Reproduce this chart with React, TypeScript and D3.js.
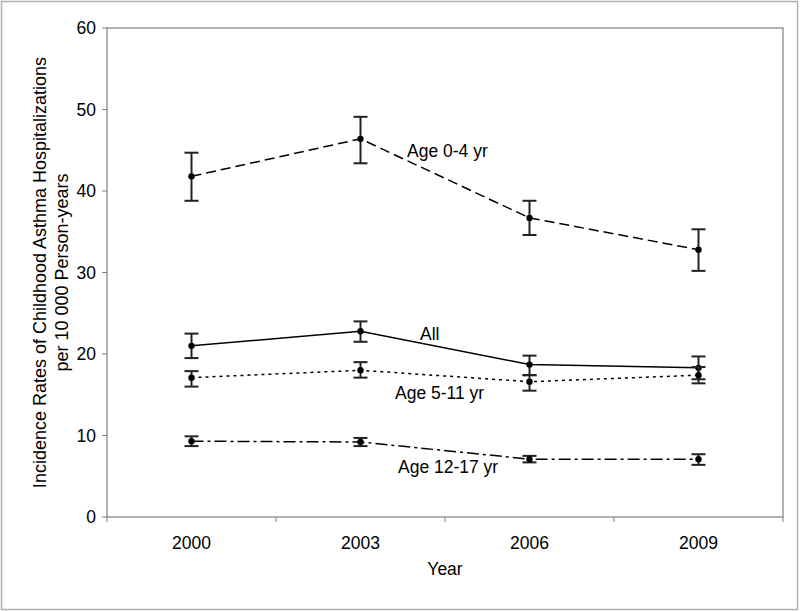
import React from "react";
import * as d3 from "d3";

const years = ["2000", "2003", "2006", "2009"];
const yTicks = [0, 10, 20, 30, 40, 50, 60];

const age04 = [41.8, 46.4, 36.7, 32.8];
const age04Lo = [38.8, 43.4, 34.6, 30.2];
const age04Hi = [44.7, 49.1, 38.8, 35.3];

const allAges = [21.0, 22.8, 18.7, 18.3];
const allLo = [19.5, 21.5, 17.4, 16.9];
const allHi = [22.5, 24.0, 19.8, 19.7];

const age511 = [17.1, 18.0, 16.6, 17.4];
const age511Lo = [16.0, 17.1, 15.5, 16.4];
const age511Hi = [17.9, 19.0, 17.4, 18.4];

const age1217 = [9.3, 9.2, 7.1, 7.1];
const age1217Lo = [8.7, 8.7, 6.7, 6.4];
const age1217Hi = [9.9, 9.7, 7.5, 7.7];

const seriesLabels = ["Age 0-4 yr", "All", "Age 5-11 yr", "Age 12-17 yr"];

const W = 800;
const H = 611;
const left = 107;
const right = 783;
const top = 28;
const bottom = 517;

export default function App() {
  const x = d3.scaleBand<string>().domain(years).range([left, right]);
  const y = d3.scaleLinear().domain([0, 60]).range([bottom, top]);
  const cx = (yr: string) => (x(yr) as number) + x.bandwidth() / 2;
  const line = d3
    .line<number>()
    .x((_, i) => cx(years[i]))
    .y((v) => y(v));

  const series = [
    { vals: age04, lo: age04Lo, hi: age04Hi, dash: "10,5", label: seriesLabels[0], lx: 407, ly: 157 },
    { vals: allAges, lo: allLo, hi: allHi, dash: "", label: seriesLabels[1], lx: 420, ly: 340 },
    { vals: age511, lo: age511Lo, hi: age511Hi, dash: "3,4", label: seriesLabels[2], lx: 395, ly: 399 },
    { vals: age1217, lo: age1217Lo, hi: age1217Hi, dash: "12,4,3,4", label: seriesLabels[3], lx: 398, ly: 473 },
  ];

  const font = "'Liberation Sans', Arial, sans-serif";
  const fs = 17.5;
  const boundaries = [left, ...years.map((yr) => (x(yr) as number) + x.bandwidth())];

  return (
    <svg
      width={W}
      height={H}
      style={{ position: "absolute", left: 0, top: 0, display: "block", background: "#fff" }}
      fontFamily={font}
    >
      <rect x={1.5} y={1.5} width={W - 4} height={H - 3} fill="#fff" stroke="#b0b0b0" strokeWidth={1.5} />
      <rect x={left} y={top} width={right - left} height={bottom - top} fill="#fff" stroke="#808080" strokeWidth={1.2} />
      {yTicks.map((t) => (
        <g key={t}>
          <line x1={left - 5} x2={left} y1={y(t)} y2={y(t)} stroke="#808080" />
          <text x={left - 11} y={y(t)} dy="0.35em" textAnchor="end" fontSize={fs} fill="#000">
            {t}
          </text>
        </g>
      ))}
      {boundaries.map((b, i) => (
        <line key={i} x1={b} x2={b} y1={bottom} y2={bottom + 5} stroke="#808080" />
      ))}
      {years.map((yr) => (
        <text key={yr} x={cx(yr)} y={549} textAnchor="middle" fontSize={fs} fill="#000">
          {yr}
        </text>
      ))}
      <text x={(left + right) / 2} y={575} textAnchor="middle" fontSize={fs} fill="#000">
        Year
      </text>
      <text transform={`translate(46, ${(top + bottom) / 2}) rotate(-90)`} textAnchor="middle" fontSize={18} fill="#000">
        Incidence Rates of Childhood Asthma Hospitalizations
      </text>
      <text transform={`translate(68, ${(top + bottom) / 2}) rotate(-90)`} textAnchor="middle" fontSize={18} fill="#000">
        per 10 000 Person-years
      </text>
      {series.map((s, si) => (
        <g key={si}>
          <path d={line(s.vals) || ""} fill="none" stroke="#000" strokeWidth={1.5} strokeDasharray={s.dash || undefined} />
          {s.vals.map((v, i) => {
            const px = cx(years[i]);
            return (
              <g key={i}>
                <line x1={px} x2={px} y1={y(s.lo[i])} y2={y(s.hi[i])} stroke="#222" strokeWidth={2} />
                <line x1={px - 7} x2={px + 7} y1={y(s.lo[i])} y2={y(s.lo[i])} stroke="#222" strokeWidth={2} />
                <line x1={px - 7} x2={px + 7} y1={y(s.hi[i])} y2={y(s.hi[i])} stroke="#222" strokeWidth={2} />
                <circle cx={px} cy={y(v)} r={3.2} fill="#000" />
              </g>
            );
          })}
          <text x={s.lx} y={s.ly} fontSize={fs} fill="#000">
            {s.label}
          </text>
        </g>
      ))}
    </svg>
  );
}
